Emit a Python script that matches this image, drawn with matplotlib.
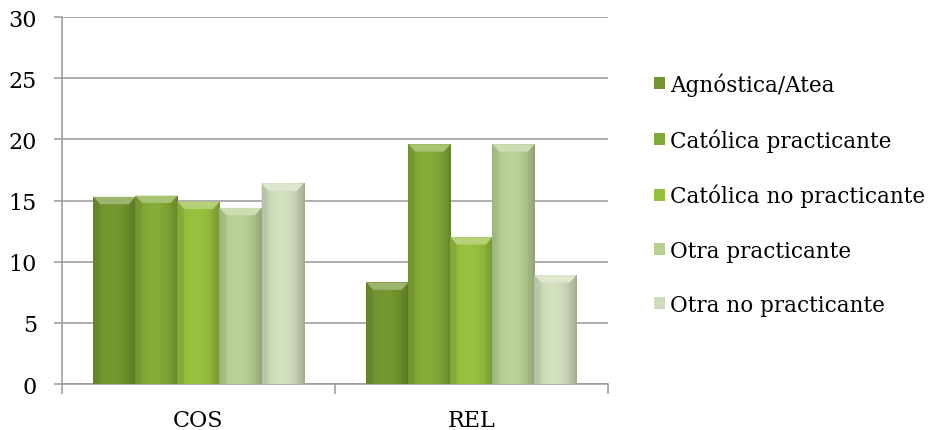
import numpy as np
import matplotlib.pyplot as plt
from matplotlib.patches import Patch, Polygon
from matplotlib.colors import to_rgb

plt.rcParams['font.family'] = ['DejaVu Serif']

categories = ["COS", "REL"]
series_names = ["Agnóstica/Atea", "Católica practicante", "Católica no practicante",
                "Otra practicante", "Otra no practicante"]
cos_values = [15.3, 15.4, 14.9, 14.4, 16.4]
rel_values = [8.3, 19.6, 12.0, 19.6, 8.9]
series_colors = ["#729530", "#82a936", "#95bf3c", "#b6cf92", "#cfdcbb"]
y_ticks = [0, 5, 10, 15, 20, 25, 30]

values = np.array([cos_values, rel_values]).T  # shape: series x categories

fig = plt.figure(figsize=(9.42, 4.31), dpi=100)
ax = fig.add_axes([0.0658, 0.1067, 0.5795, 0.8515])

grid_color = "#999999"
font_size = 16
legend_size = 15.5
n_series = len(series_names)
bar_w = 0.154
x = np.arange(len(categories))

# horizontal shading profile across a bar: darker edges, lighter centre
prof_x = np.linspace(0, 1, 64)
shade = 0.86 + 0.16 * np.sin(np.pi * np.clip(prof_x * 1.15, 0, 1)) ** 0.6
shade[-6:] *= np.linspace(1.0, 0.9, 6)

for i, name in enumerate(series_names):
    offs = (i - (n_series - 1) / 2) * bar_w
    base = np.array(to_rgb(series_colors[i]))
    bars = ax.bar(x + offs, values[i], width=bar_w, color=series_colors[i],
                  edgecolor="none", zorder=3, label=name)
    for rect in bars:
        x0, w, h = rect.get_x(), rect.get_width(), rect.get_height()
        img = np.clip(base[None, None, :] * shade[None, :, None], 0, 1)
        im = ax.imshow(img, extent=(x0, x0 + w, 0, h), aspect="auto",
                       zorder=3.5, interpolation="bilinear")
        im.set_clip_path(rect)
        # bevelled top
        dx, dy = 0.024, 0.6
        top = np.clip(base + (1 - base) * 0.3, 0, 1)
        ax.add_patch(Polygon([(x0, h), (x0 + w, h), (x0 + w - dx, h - dy), (x0 + dx, h - dy)],
                             closed=True, facecolor=top, edgecolor="none", zorder=4))
        ax.add_patch(Polygon([(x0, h), (x0 + dx, h - dy), (x0 + dx, 0), (x0, 0)],
                             closed=True, facecolor=base * 0.88, edgecolor="none",
                             alpha=0.6, zorder=4))

ax.set_xlim(-0.5, 1.5)
ax.set_ylim(0, 30)
ax.set_yticks(y_ticks)
ax.set_yticklabels([str(t) for t in y_ticks])
ax.yaxis.grid(True, color=grid_color, linewidth=1.1, zorder=0)
ax.set_axisbelow(True)

ax.set_xticks([-0.5, 0.5, 1.5])
ax.set_xticklabels([])
ax.set_xticks(x, minor=True)
ax.set_xticklabels(categories, minor=True)
ax.tick_params(axis="x", which="major", length=7, color=grid_color, width=1.1)
ax.tick_params(axis="x", which="minor", length=0, pad=18, labelsize=font_size)
ax.tick_params(axis="y", length=6, color=grid_color, width=1.1, pad=12, labelsize=font_size)

for s in ["top", "right"]:
    ax.spines[s].set_visible(False)
for s in ["left", "bottom"]:
    ax.spines[s].set_color(grid_color)
    ax.spines[s].set_linewidth(1.1)

handles = [Patch(facecolor=c, edgecolor="none") for c in series_colors]
fig.legend(handles, series_names, loc="upper left", bbox_to_anchor=(0.685, 0.85),
           frameon=False, fontsize=legend_size, handlelength=0.5, handleheight=0.5,
           handletextpad=0.25, labelspacing=1.5, borderaxespad=0)

fig.savefig("out.png", dpi=100)
